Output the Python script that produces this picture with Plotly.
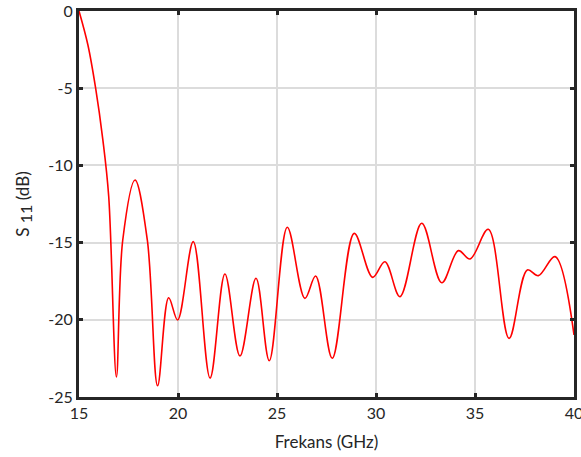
import plotly.graph_objects as go

freq = [15.00, 15.45, 15.84, 16.20, 16.50, 16.89,
        17.21, 17.83, 18.45, 18.97, 19.53,
        19.98, 20.77, 21.62, 22.37, 23.13, 23.94, 24.61, 25.52, 26.41,
        26.95, 27.79, 28.90, 29.83, 30.45, 31.21, 32.31, 33.32, 34.16,
        34.75, 35.67, 36.72, 37.64, 38.20, 39.04, 40.00]
s11 = [0.0, -2.2, -5.0, -8.3, -12.0, -23.7,
       -14.83, -10.95, -14.83, -24.27, -18.57,
       -20.01, -14.94, -23.77, -17.03, -22.34, -17.31, -22.65, -14.01, -18.61,
       -17.16, -22.49, -14.40, -17.25, -16.24, -18.5, -13.75, -17.6, -15.52,
       -16.06, -14.14, -21.2, -16.77, -17.14, -15.91, -20.98]

x_ticks = [15, 20, 25, 30, 35, 40]
y_ticks = [-25, -20, -15, -10, -5, 0]

font = "Lato"
fig = go.Figure()
fig.add_trace(go.Scatter(x=freq, y=s11, mode="lines",
                         line=dict(color="#ff0000", width=1.6, shape="spline", smoothing=1.0),
                         showlegend=False))

axis_common = dict(showline=True, linewidth=3, linecolor="#262626", mirror="ticks",
                   ticks="inside", ticklen=4, tickwidth=3, tickcolor="#262626",
                   showgrid=True, gridcolor="#dcdcdc", gridwidth=2, zeroline=False,
                   automargin=False,
                   tickfont=dict(family=font, size=16, color="#262626"))

fig.update_layout(
    width=581, height=457,
    margin=dict(l=79, r=7, t=11, b=60),
    plot_bgcolor="white", paper_bgcolor="white",
    xaxis=dict(range=[15, 40], tickvals=x_ticks, ticktext=[str(v) for v in x_ticks],
               ticklabeloverflow="allow",
               title=dict(text="Frekans (GHz)", font=dict(family=font, size=17, color="#262626")),
               **axis_common),
    yaxis=dict(range=[-25, 0], tickvals=y_ticks, ticktext=[str(v) for v in y_ticks],
               title=dict(text="S <sub><span style='font-size:16px'>11</span></sub> (dB)",
                          font=dict(family=font, size=17, color="#262626")),
               **axis_common),
)
fig.write_html("out.html")
